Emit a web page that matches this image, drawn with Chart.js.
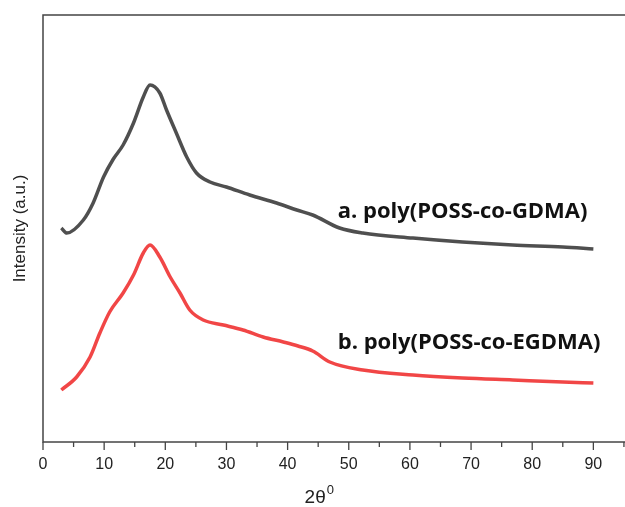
<!DOCTYPE html>
<html>
<head>
<meta charset="utf-8">
<script src="https://cdn.jsdelivr.net/npm/chart.js@4/dist/chart.umd.min.js"></script>
<style>
  html, body { margin: 0; padding: 0; background: #fff; overflow: hidden; }
  #wrap { width: 630px; height: 507px; position: relative; }
</style>
</head>
<body>
<div id="wrap"><canvas id="xrdChart"></canvas></div>
<script>
// 2θ positions and intensities (a.u.)
const twoThetaA = [3.0, 3.9, 6.6, 8.2, 9.9, 11.5, 13.1, 14.8, 16.4, 17.5, 19.1, 20.2, 21.8, 23.5, 25.1, 27.3, 30.0, 33.8, 38.2, 41.5, 44.1, 48.5, 52.3, 60.5, 68.6, 76.8, 85.0, 90.0];
const intensityA = [214, 209, 222, 239, 265, 283, 297, 319, 345, 357, 349, 332, 309, 285, 269, 260, 255, 247, 239, 232, 227, 214, 209, 204, 200, 197, 195, 193];

const twoThetaB = [3.0, 5.5, 7.7, 9.3, 10.9, 13.1, 14.8, 16.4, 17.5, 19.1, 20.8, 22.4, 24.0, 26.2, 29.5, 32.7, 36.0, 39.3, 41.7, 44.1, 46.9, 52.3, 60.5, 68.6, 76.8, 85.0, 90.0];
const intensityB = [52, 65, 85, 109, 130, 149, 167, 189, 197, 185, 165, 149, 132, 122, 117, 112, 105, 100, 96, 91, 80, 72, 67, 64, 62, 60, 59];

const seriesLabels = ['a. poly(POSS-co-GDMA)', 'b. poly(POSS-co-EGDMA)'];
// where each label sits, in data units
const labelX = [48.2, 48.2];
const labelY = [230, 99];

const xTickValues = [0, 10, 20, 30, 40, 50, 60, 70, 80, 90];

const toPoints = (xs, ys) => xs.map((x, i) => ({ x: x, y: ys[i] }));

// frame, minor/major ticks, curve labels and the x title
const decorPlugin = {
    id: 'decor',
    afterDraw(chart) {
        const { ctx, chartArea: a, scales } = chart;
        const xs = scales.x, ys = scales.y;
        ctx.save();
        ctx.strokeStyle = '#444';
        ctx.lineWidth = 1.5;
        ctx.strokeRect(a.left, a.top, a.right - a.left, a.bottom - a.top);

        ctx.lineWidth = 1.3;
        for (let v = 0; v <= 95; v += 5) {
            const px = xs.getPixelForValue(v);
            const len = v % 10 === 0 ? 8 : 5;
            ctx.beginPath();
            ctx.moveTo(px, a.bottom);
            ctx.lineTo(px, a.bottom + len);
            ctx.stroke();
        }

        ctx.fillStyle = '#111';
        ctx.font = 'bold 22px "Open Sans"';
        ctx.textBaseline = 'middle';
        ctx.textAlign = 'left';
        seriesLabels.forEach((t, i) => {
            ctx.fillText(t, xs.getPixelForValue(labelX[i]), ys.getPixelForValue(labelY[i]));
        });

        // 2θ with superscript 0
        ctx.fillStyle = '#222';
        ctx.font = '19px "Liberation Sans"';
        ctx.textBaseline = 'alphabetic';
        const main = '2\u03b8';
        const w = ctx.measureText(main).width;
        const cx = xs.getPixelForValue(44.5);
        ctx.fillText(main, cx - w / 2, 503);
        ctx.font = '13px "Liberation Sans"';
        ctx.fillText('0', cx + w / 2 + 1, 494);
        ctx.restore();
    }
};

const ctx = document.getElementById('xrdChart').getContext('2d');
new Chart(ctx, {
    type: 'line',
    data: {
        datasets: [{
            label: seriesLabels[0],
            data: toPoints(twoThetaA, intensityA),
            borderColor: 'rgba(60, 60, 60, 0.9)',
            borderWidth: 3.5,
            pointRadius: 0,
            cubicInterpolationMode: 'monotone',
            fill: false
        }, {
            label: seriesLabels[1],
            data: toPoints(twoThetaB, intensityB),
            borderColor: 'rgba(240, 50, 50, 0.9)',
            borderWidth: 3.5,
            pointRadius: 0,
            cubicInterpolationMode: 'monotone',
            fill: false
        }]
    },
    options: {
        responsive: true,
        maintainAspectRatio: false,
        animation: false,
        layout: { padding: { top: 15, right: 3, left: 0, bottom: 0 } },
        plugins: {
            legend: { display: false },
            tooltip: { enabled: false }
        },
        scales: {
            x: {
                type: 'linear',
                min: 0,
                max: 95.5,
                afterFit: (s) => { s.height = 65; },
                afterBuildTicks: (s) => { s.ticks = xTickValues.map(v => ({ value: v })); },
                grid: { drawOnChartArea: false, drawTicks: false },
                border: { display: false },
                ticks: {
                    padding: 13,
                    color: '#222',
                    font: { family: '"Liberation Sans"', size: 16 }
                }
            },
            y: {
                min: 0,
                max: 427,
                afterFit: (s) => { s.width = 43; },
                grid: { display: false, drawTicks: false },
                border: { display: false },
                ticks: { display: false },
                title: {
                    display: true,
                    text: 'Intensity (a.u.)',
                    color: '#222',
                    padding: { top: 10, bottom: 0 },
                    font: { family: '"Liberation Sans"', size: 17 }
                }
            }
        }
    },
    plugins: [decorPlugin]
});
</script>
</body>
</html>
